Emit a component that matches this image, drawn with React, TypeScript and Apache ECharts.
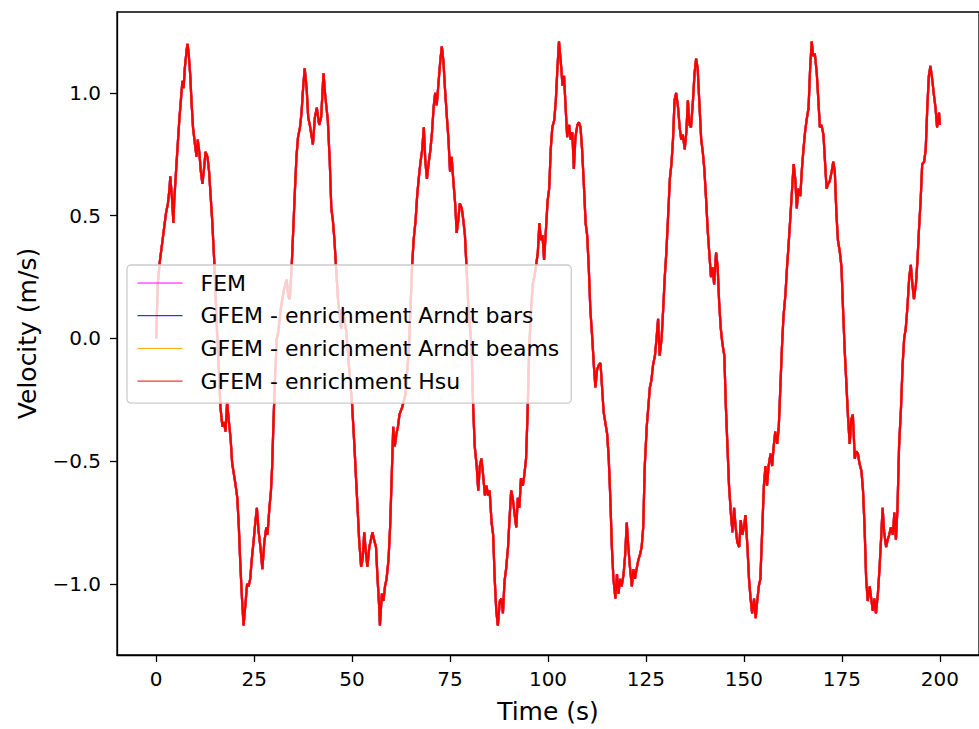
import React, { useEffect, useRef } from "react";
import * as echarts from "echarts";

// Velocity samples [time (s), velocity (m/s)], one array per oscillation
const cycle1: [number, number][] = [
  [0, 0], [0.4, 0.22], [0.9, 0.31], [1.7, 0.41], [2.5, 0.51], [3.0, 0.55], [3.4, 0.61], [3.6, 0.66], [4.0, 0.58], [4.4, 0.47],
  [4.6, 0.56], [5.1, 0.69], [5.5, 0.79], [5.9, 0.89], [6.3, 0.97], [6.7, 1.05], [7.0, 1.02], [7.3, 1.10], [7.8, 1.18], [8.0, 1.20],
  [8.3, 1.16], [8.7, 1.07], [9.0, 0.97], [9.4, 0.86], [9.9, 0.79], [10.3, 0.74], [10.6, 0.81], [11.0, 0.76], [11.4, 0.68], [11.8, 0.63],
  [12.2, 0.69], [12.6, 0.76], [13.1, 0.74], [13.5, 0.68], [13.9, 0.58], [14.3, 0.48], [14.8, 0.32], [15.2, 0.16], [15.6, 0.0], [16.0, -0.13],
  [16.4, -0.28], [16.9, -0.36], [17.3, -0.34], [17.7, -0.38], [18.1, -0.26], [18.5, -0.33], [19.0, -0.41], [19.4, -0.51], [19.8, -0.55], [20.2, -0.59],
  [20.7, -0.65], [21.1, -0.77], [21.5, -0.93], [21.9, -1.06], [22.3, -1.17], [22.8, -1.08], [23.2, -1.00], [23.6, -1.01], [24.0, -0.98], [24.4, -0.90],
  [24.9, -0.82], [25.3, -0.75], [25.7, -0.69], [26.1, -0.78], [26.6, -0.85], [27.1, -0.94], [27.6, -0.83], [28.1, -0.77], [28.4, -0.80], [28.9, -0.69],
  [29.3, -0.62], [29.6, -0.52], [29.9, -0.36], [30.3, -0.17], [30.8, 0.0], [31.2, 0.03], [31.8, 0.12], [32.5, 0.19], [33.3, 0.24], [33.7, 0.17],
  [34.1, 0.16], [34.6, 0.30], [35.0, 0.45], [35.4, 0.60], [35.8, 0.74], [36.2, 0.82], [36.7, 0.86], [37.1, 0.92], [37.5, 1.02], [37.9, 1.10],
  [38.4, 1.02], [38.8, 0.90],
];

const cycle2: [number, number][] = [
  [39.2, 0.87], [40.0, 0.79], [40.5, 0.90], [41.0, 0.94], [41.6, 0.87], [42.1, 0.90], [42.7, 1.08], [43.2, 0.98], [43.8, 0.89], [44.3, 0.72],
  [44.7, 0.53], [45.1, 0.48], [45.5, 0.40], [45.9, 0.29], [46.4, 0.16], [47.2, 0.04], [47.6, 0.12], [48.5, 0.03], [49.3, -0.13], [50.0, -0.27],
  [50.6, -0.44], [51.0, -0.57], [51.4, -0.69], [51.8, -0.82], [52.3, -0.93], [52.7, -0.90], [53.1, -0.79], [53.5, -0.87], [53.9, -0.93], [54.4, -0.85],
  [54.8, -0.82], [55.2, -0.79], [55.6, -0.82], [56.1, -0.85], [56.5, -0.98], [56.9, -1.09], [57.1, -1.17], [57.6, -1.04], [58.0, -1.07], [58.4, -1.01],
  [58.8, -0.98], [59.3, -0.90], [59.7, -0.77], [60.1, -0.57], [60.5, -0.36], [60.9, -0.44], [61.3, -0.39], [61.7, -0.36], [62.1, -0.31], [62.8, -0.28],
  [63.6, -0.23], [64.5, -0.04], [64.9, 0.12], [65.3, 0.29], [65.7, 0.40], [66.2, 0.48], [66.6, 0.58], [67.0, 0.65], [67.4, 0.71], [67.9, 0.77],
  [68.3, 0.86], [68.7, 0.72], [69.1, 0.65], [69.5, 0.71], [70.0, 0.77], [70.4, 0.84], [70.8, 0.94], [71.2, 1.00], [71.6, 0.95], [72.1, 1.05],
  [72.5, 1.13], [72.9, 1.19], [73.3, 1.13], [73.7, 1.02], [74.2, 0.90], [74.6, 0.81], [75.0, 0.68], [75.4, 0.74], [75.9, 0.63], [76.3, 0.55],
  [76.7, 0.43], [77.1, 0.48], [77.5, 0.55], [78.0, 0.53], [78.4, 0.48], [78.8, 0.42], [79.2, 0.29], [79.7, 0.12],
];

const cycle3: [number, number][] = [
  [80.5, -0.04], [80.9, -0.28], [81.3, -0.44], [81.8, -0.52], [82.2, -0.62], [82.6, -0.52], [83.0, -0.49], [83.4, -0.55], [83.9, -0.64], [84.3, -0.60],
  [84.7, -0.64], [85.1, -0.62], [85.6, -0.75], [86.0, -0.80], [86.4, -0.98], [86.8, -1.11], [87.2, -1.17], [87.7, -1.07], [88.1, -1.06], [88.5, -1.12],
  [88.9, -0.99], [89.3, -0.94], [89.8, -0.85], [90.2, -0.73], [90.6, -0.62], [91.0, -0.65], [91.5, -0.72], [91.9, -0.77], [92.3, -0.65], [92.7, -0.69],
  [93.1, -0.57], [93.6, -0.60], [94.0, -0.55], [94.4, -0.49], [94.8, -0.30], [95.2, -0.04], [95.7, 0.12], [96.1, 0.22], [96.5, 0.25], [96.9, 0.29],
  [97.4, 0.35], [97.8, 0.47], [98.2, 0.40], [98.6, 0.42], [99.0, 0.32], [99.5, 0.45], [99.9, 0.56], [100.3, 0.61], [100.7, 0.77], [101.1, 0.86],
  [101.6, 0.89], [102.0, 0.97], [102.4, 1.10], [102.8, 1.21], [103.3, 1.12], [103.7, 1.03], [104.1, 1.07], [104.5, 0.94], [104.9, 0.82], [105.4, 0.87],
  [105.8, 0.81], [106.2, 0.84], [106.6, 0.69], [107.0, 0.82], [107.5, 0.87], [107.9, 0.88], [108.3, 0.86], [108.7, 0.77], [109.2, 0.61], [109.6, 0.47],
  [110.0, 0.42], [110.4, 0.29], [110.8, 0.12], [111.3, 0.0], [111.7, -0.11], [112.1, -0.20], [112.5, -0.13], [112.9, -0.11], [113.4, -0.10], [113.8, -0.20],
  [114.2, -0.30], [114.6, -0.34], [115.1, -0.39], [115.5, -0.49], [115.9, -0.65], [116.3, -0.85], [116.7, -0.98], [117.2, -1.06], [117.6, -0.96], [118.0, -1.04],
  [118.4, -0.98], [118.8, -1.01], [119.3, -0.96], [119.7, -0.88],
];

const cycle4: [number, number][] = [
  [120.1, -0.75], [120.5, -0.85], [120.9, -0.93], [121.4, -1.01], [121.8, -0.94], [122.2, -0.98], [122.6, -0.94], [123.1, -0.90], [123.5, -0.88], [123.9, -0.85],
  [124.3, -0.77], [124.7, -0.52], [125.2, -0.36], [125.6, -0.28], [126.0, -0.20], [126.4, -0.17], [126.8, -0.11], [127.3, -0.07], [127.7, 0.0], [128.1, 0.08],
  [128.5, -0.07], [129.0, 0.0], [129.4, 0.12], [129.8, 0.25], [130.2, 0.35], [130.6, 0.48], [131.1, 0.65], [131.5, 0.71], [131.9, 0.81], [132.3, 0.97],
  [132.7, 1.00], [133.2, 0.94], [133.6, 0.86], [134.0, 0.81], [134.4, 0.83], [134.9, 0.77], [135.3, 0.84], [135.7, 0.97], [136.1, 0.87], [136.5, 0.86],
  [137.0, 0.97], [137.4, 1.08], [137.8, 1.14], [138.2, 1.10], [138.6, 0.97], [139.1, 0.81], [139.5, 0.76], [139.9, 0.69], [140.3, 0.58], [140.8, 0.43],
  [141.2, 0.34], [141.6, 0.25], [142.0, 0.29], [142.4, 0.22], [142.9, 0.35], [143.3, 0.29], [143.7, 0.14], [144.1, 0.04], [144.5, -0.02], [145.0, -0.07],
  [145.4, -0.28], [145.8, -0.44], [146.2, -0.60], [146.7, -0.72], [147.1, -0.79], [147.5, -0.69], [147.9, -0.77], [148.3, -0.83], [148.8, -0.85], [149.2, -0.74],
  [149.6, -0.80], [150.0, -0.77], [150.4, -0.72], [150.9, -0.85], [151.3, -0.98], [151.7, -1.06], [152.1, -1.12], [152.6, -1.06], [153.0, -1.14], [153.4, -1.07],
  [153.8, -1.01], [154.2, -0.98], [154.7, -0.77], [155.1, -0.60], [155.5, -0.52], [155.9, -0.60], [156.3, -0.52], [156.8, -0.47], [157.2, -0.52], [157.6, -0.44],
  [158.0, -0.38], [158.5, -0.43], [158.9, -0.36], [159.3, -0.20], [159.7, -0.04], [160.1, 0.09],
];

const cycle5: [number, number][] = [
  [160.6, 0.18], [161.0, 0.29], [161.4, 0.38], [161.8, 0.48], [162.3, 0.61], [162.7, 0.71], [163.1, 0.65], [163.5, 0.53], [163.9, 0.61], [164.4, 0.58],
  [164.8, 0.69], [165.2, 0.77], [165.6, 0.84], [166.0, 0.89], [166.5, 0.94], [166.9, 1.10], [167.3, 1.21], [167.7, 1.15], [168.1, 1.16], [168.6, 1.08],
  [169.0, 0.97], [169.4, 0.86], [169.8, 0.87], [170.3, 0.83], [170.7, 0.72], [171.1, 0.61], [171.5, 0.63], [171.9, 0.64], [172.4, 0.68], [172.8, 0.72],
  [173.2, 0.68], [173.6, 0.51], [174.0, 0.40], [174.5, 0.35], [174.9, 0.29], [175.3, 0.12], [175.7, -0.04], [176.2, -0.20], [176.6, -0.33], [177.0, -0.43],
  [177.4, -0.33], [177.8, -0.31], [178.3, -0.49], [178.7, -0.46], [179.1, -0.47], [179.5, -0.51], [180.0, -0.54], [180.4, -0.62], [180.8, -0.77], [181.2, -0.98],
  [181.6, -1.07], [182.1, -1.01], [182.5, -1.06], [182.9, -1.11], [183.3, -1.06], [183.7, -1.12], [184.2, -1.04], [184.6, -0.94], [185.0, -0.82], [185.4, -0.69],
  [185.8, -0.79], [186.3, -0.85], [186.7, -0.82], [187.1, -0.80], [187.5, -0.77], [188.0, -0.80], [188.4, -0.71], [188.8, -0.82], [189.2, -0.69], [189.6, -0.44],
  [190.1, -0.28], [190.5, -0.11], [190.9, 0.0], [191.3, 0.04], [191.7, 0.12], [192.2, 0.25], [192.6, 0.30], [193.0, 0.22], [193.4, 0.16], [193.9, 0.22],
  [194.3, 0.32], [194.7, 0.45], [195.1, 0.56], [195.5, 0.71], [196.0, 0.72], [196.4, 0.77], [196.8, 0.94], [197.2, 1.07], [197.6, 1.11], [198.1, 1.05],
  [198.5, 0.99], [198.9, 0.94], [199.3, 0.86], [199.8, 0.92], [200.0, 0.87],
];

const xTicks = [0, 25, 50, 75, 100, 125, 150, 175, 200];
const yTicks = [-1.0, -0.5, 0.0, 0.5, 1.0];
const seriesNames = [
  "FEM",
  "GFEM - enrichment Arndt bars",
  "GFEM - enrichment Arndt beams",
  "GFEM - enrichment Hsu",
];
const seriesColors = ["#ff00ff", "#0000ff", "#ffa500", "#ff0000"];

export default function App() {
  const ref = useRef<HTMLDivElement>(null);

  useEffect(() => {
    if (!ref.current) return;
    const chart = echarts.init(ref.current, null, { renderer: "svg" });
    const data = [...cycle1, ...cycle2, ...cycle3, ...cycle4, ...cycle5];
    const font = "DejaVu Sans";
    const fmtY = (v: number) => v.toFixed(1).replace("-", "\u2212");

    chart.setOption({
      animation: false,
      backgroundColor: "#ffffff",
      grid: {
        left: 117,
        top: 12,
        right: -8,
        bottom: 73,
        show: true,
        borderColor: "#000",
        borderWidth: 1.3,
        backgroundColor: "transparent",
      },
      xAxis: {
        type: "value",
        min: -10,
        max: 210,
        name: "Time (s)",
        nameLocation: "middle",
        nameGap: 44,
        nameTextStyle: { fontFamily: font, fontSize: 25, color: "#000" },
        axisLine: { show: true, onZero: false, lineStyle: { color: "#000", width: 1.3 } },
        axisTick: { show: true, customValues: xTicks, length: 7, lineStyle: { color: "#000", width: 1.3 } },
        axisLabel: {
          customValues: xTicks,
          margin: 14,
          fontFamily: font,
          fontSize: 20,
          color: "#000",
          formatter: (v: number) => String(v),
        },
        splitLine: { show: false },
      },
      yAxis: {
        type: "value",
        min: -1.29,
        max: 1.33,
        name: "Velocity (m/s)",
        nameLocation: "middle",
        nameGap: 77,
        nameRotate: 90,
        nameTextStyle: { fontFamily: font, fontSize: 25, color: "#000" },
        axisLine: { show: true, onZero: false, lineStyle: { color: "#000", width: 1.3 } },
        axisTick: { show: true, customValues: yTicks, length: 7, lineStyle: { color: "#000", width: 1.3 } },
        axisLabel: {
          customValues: yTicks,
          margin: 16,
          fontFamily: font,
          fontSize: 20,
          color: "#000",
          formatter: (v: number) => fmtY(v),
        },
        splitLine: { show: false },
      },
      legend: {
        orient: "vertical",
        left: 127,
        top: 265,
        z: 20,
        padding: [7, 12, 11, 10],
        itemWidth: 45,
        itemHeight: 22,
        itemGap: 10.7,
        backgroundColor: "rgba(255,255,255,0.8)",
        borderColor: "#cccccc",
        borderWidth: 1.3,
        borderRadius: 4,
        textStyle: { fontFamily: font, fontSize: 22, color: "#000", lineHeight: 22, padding: [0, 0, 0, 13] },
        itemStyle: { opacity: 0 },
        lineStyle: { width: 1 },
        data: seriesNames,
      },
      series: seriesNames.map((name, i) => ({
        name,
        type: "line",
        data,
        showSymbol: false,
        symbol: "none",
        lineStyle: { color: seriesColors[i], width: 2.2 },
        itemStyle: { color: seriesColors[i] },
        z: 2 + i,
      })),
    });

    return () => chart.dispose();
  }, []);

  return (
    <div
      ref={ref}
      style={{ position: "fixed", left: 0, top: 0, width: 979, height: 729, background: "#fff" }}
    />
  );
}
